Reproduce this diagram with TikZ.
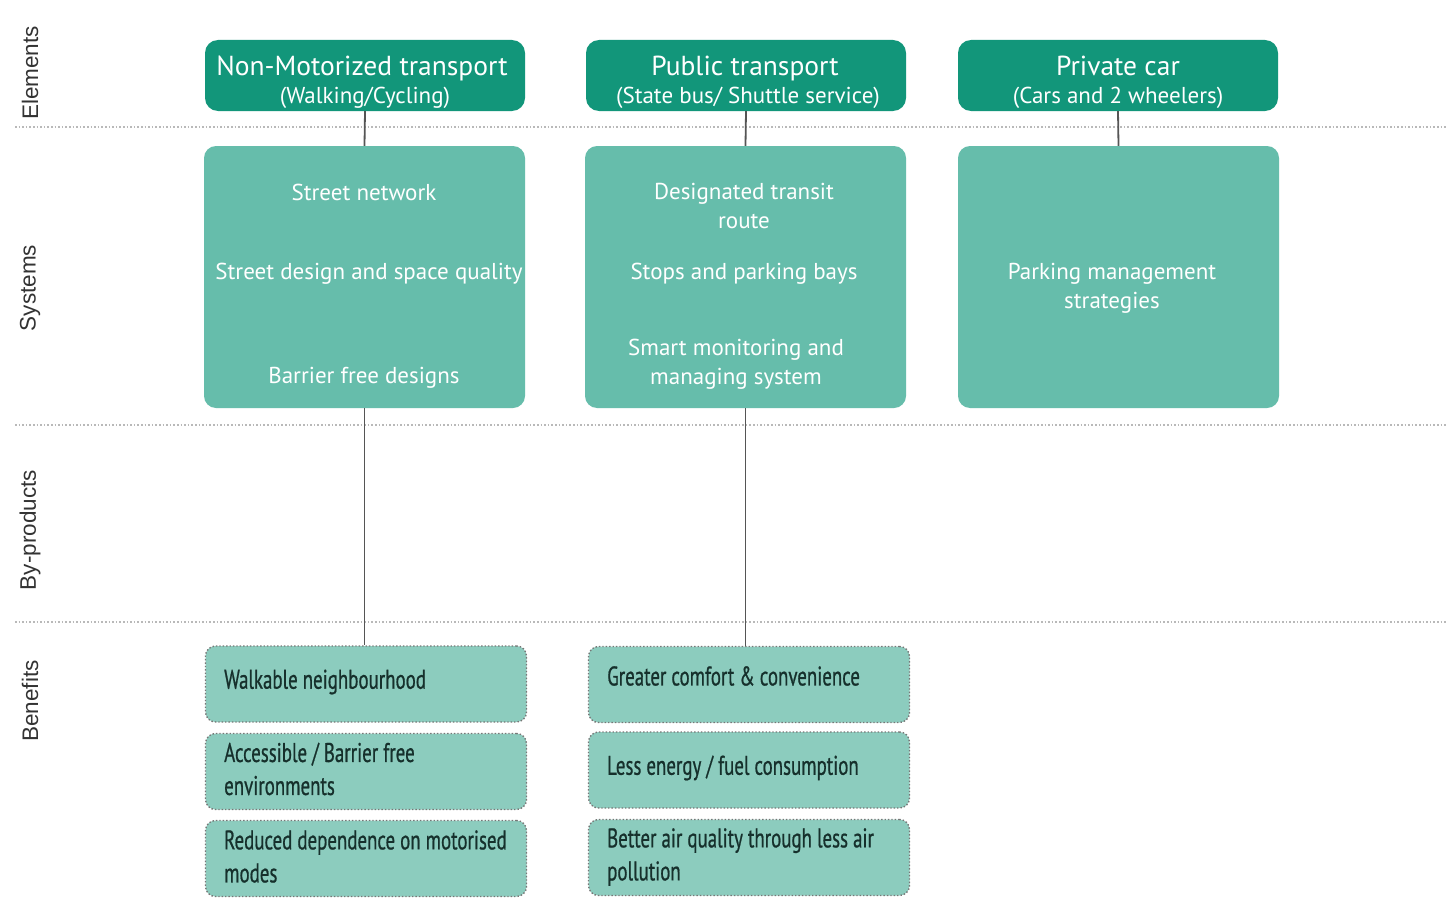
\documentclass[tikz,border=0pt]{standalone}
\usepackage{fontspec}
\setmainfont{PT Sans}
\newfontfamily\condfont{PT Sans}[FakeStretch=0.70, FakeBold=0.7]
\newfontfamily\labfont{Liberation Sans}
\definecolor{hdrgreen}{RGB}{18,150,122}
\definecolor{sysgreen}{RGB}{102,189,171}
\definecolor{bengreen}{RGB}{140,204,190}
\definecolor{bentext}{RGB}{22,48,44}
\definecolor{sepgray}{RGB}{185,185,185}
\definecolor{linegray}{RGB}{85,85,85}
\tikzset{
  hdrbox/.style={draw=none, fill=hdrgreen, rounded corners=13pt, minimum width=320pt, minimum height=71pt, inner sep=0pt},
  sysbox/.style={draw=none, fill=sysgreen, rounded corners=12pt, minimum width=321pt, minimum height=262pt, inner sep=0pt},
  benbox/.style={draw=linegray!80, dotted, line width=1.4pt, fill=bengreen, rounded corners=10pt, minimum width=321pt, minimum height=76pt, inner sep=0pt},
  hdrbig/.style={text=white, font=\fontsize{27.5}{30}\selectfont, inner sep=0pt, anchor=base},
  hdrsmall/.style={text=white, font=\fontsize{23}{25}\selectfont, inner sep=0pt, anchor=base},
  systext/.style={text=white, font=\fontsize{23}{29}\selectfont, align=center, inner sep=0pt},
  bentxt/.style={text=bentext, font=\condfont\fontsize{27}{33}\selectfont, align=left, anchor=west, inner sep=0pt},
  sidelabel/.style={text=black!80, font=\labfont\fontsize{22.5}{26}\selectfont, rotate=90, inner sep=0pt},
  sep/.style={draw=sepgray, dotted, line width=1.6pt},
  conn/.style={draw=linegray, line width=1.8pt},
}
\begin{document}
\begin{tikzpicture}[x=1pt, y=-1pt]
\useasboundingbox[fill=white] (0,0) rectangle (1446,899);

% row separators
\draw[sep] (15,127) -- (1446,127);
\draw[sep] (15,425) -- (1446,425);
\draw[sep] (15,622) -- (1446,622);

% row labels
\node[sidelabel] (lElements) at (30,73) {Elements};
\node[sidelabel] (lSystems) at (30,288) {Systems};
\node[sidelabel] (lByproducts) at (30,530) {By-products};
\node[sidelabel] (lBenefits) at (30,701) {Benefits};

% elements
\node[hdrbox] (h1) at (365,75.5) {};
\node[hdrbig] (h1a) at (362,75) {Non-Motorized transport};
\node[hdrsmall] (h1b) at (365,103) {(Walking/Cycling)};
\node[hdrbox] (h2) at (746,75.5) {};
\node[hdrbig] (h2a) at (745,75) {Public transport};
\node[hdrsmall] (h2b) at (748,103) {(State bus/ Shuttle service)};
\node[hdrbox] (h3) at (1118,75.5) {};
\node[hdrbig] (h3a) at (1118,75) {Private car};
\node[hdrsmall] (h3b) at (1118,103) {(Cars and 2 wheelers)};

% systems
\node[sysbox] (s1) at (364.5,277) {};
\node[systext] (s1a) at (364,192) {Street network};
\node[systext] (s1b) at (369,274) {Street design and space quality};
\node[systext] (s1c) at (364,378) {Barrier free designs};
\node[sysbox] (s2) at (745.5,277) {};
\node[systext] (s2a) at (744,206) {Designated transit\\route};
\node[systext] (s2b) at (744,274) {Stops and parking bays};
\node[systext] (s2c) at (736,364) {Smart monitoring and\\managing system};
\node[sysbox] (s3) at (1118.5,277) {};
\node[systext] (s3a) at (1112,288) {Parking management\\strategies};

% benefits
\node[benbox] (b11) at (366,684) {};
\node[benbox] (b12) at (366,771.5) {};
\node[benbox] (b13) at (366,858.5) {};
\node[benbox] (b21) at (749,684.5) {};
\node[benbox] (b22) at (749,770) {};
\node[benbox] (b23) at (749,857.5) {};
\node[bentxt] (t11) at (224,682) {Walkable neighbourhood};
\node[bentxt] (t12) at (224,769) {Accessible / Barrier free\\environments};
\node[bentxt] (t13) at (224,856.5) {Reduced dependence on motorised\\modes};
\node[bentxt] (t21) at (607,676) {Greater comfort \& convenience};
\node[bentxt] (t22) at (607,768) {Less energy / fuel consumption};
\node[bentxt] (t23) at (607,857) {Better air quality through less air\\pollution};

% connectors
\draw[conn] (h1.south) -- (s1.north);
\draw[conn] (h2.south) -- (s2.north);
\draw[conn] (h3.south) -- (s3.north);
\draw[conn] (s1.south) -- (b11.north -| s1.south);
\draw[conn] (s2.south) -- (b21.north -| s2.south);
\end{tikzpicture}
\end{document}
